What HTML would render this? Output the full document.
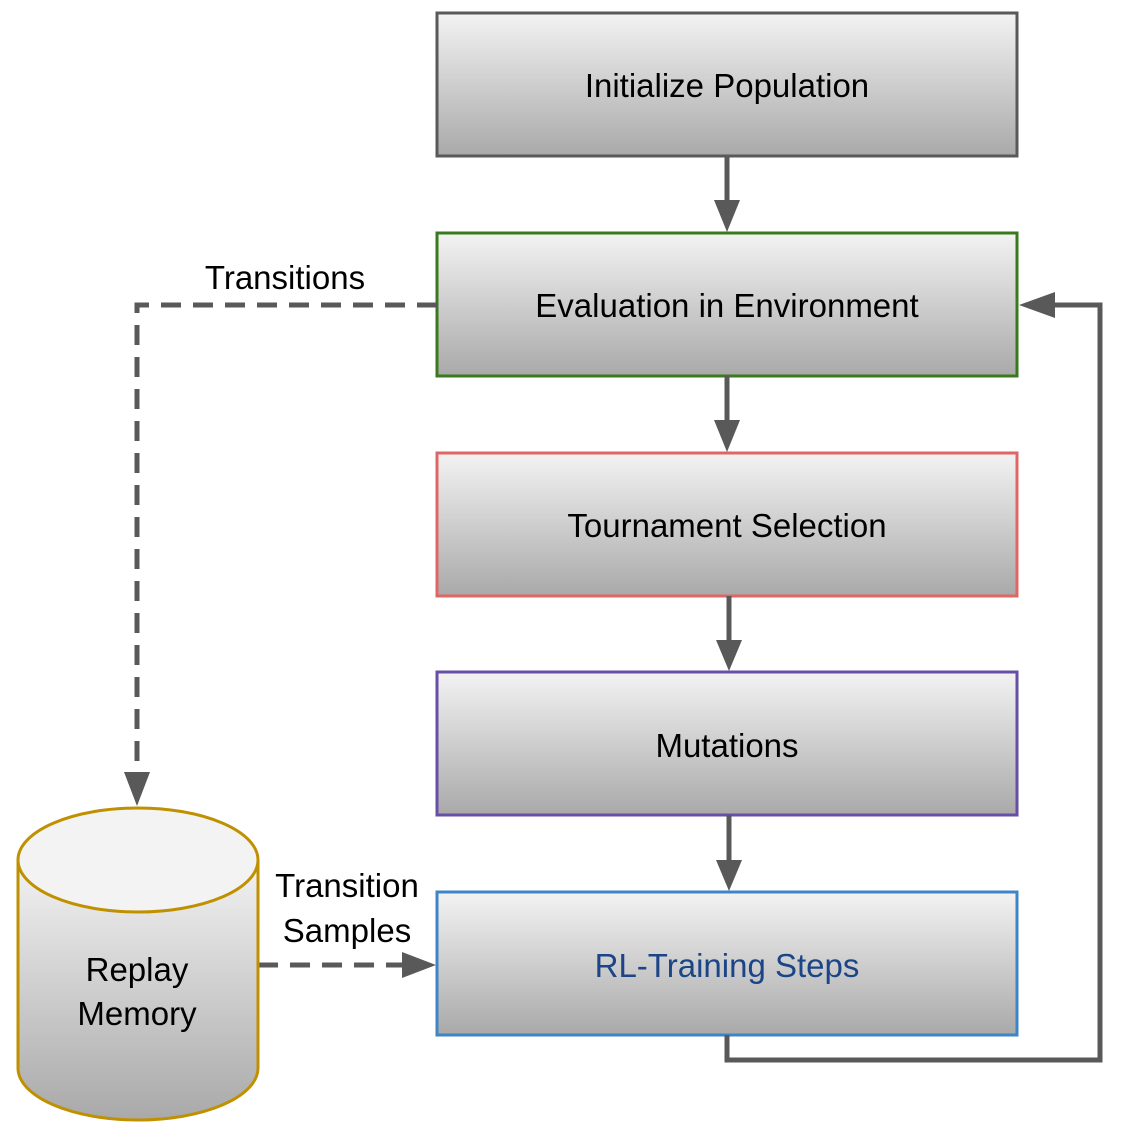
<!DOCTYPE html>
<html><head><meta charset="utf-8"><style>html,body{margin:0;padding:0;background:#fff}</style></head>
<body>
<svg width="1133" height="1133" viewBox="0 0 1133 1133" xmlns="http://www.w3.org/2000/svg" font-family="Liberation Sans, sans-serif">
<defs>
<linearGradient id="g" x1="0" y1="0" x2="0" y2="1"><stop offset="0" stop-color="#f3f3f3"/><stop offset="1" stop-color="#a9a9a9"/></linearGradient>
</defs>
<g stroke-width="3" fill="url(#g)">
<rect x="437" y="13" width="580" height="143" stroke="#595959"/>
<rect x="437" y="233" width="580" height="143" stroke="#3a7a1e"/>
<rect x="437" y="453" width="580" height="143" stroke="#e06666"/>
<rect x="437" y="672" width="580" height="143" stroke="#674ea7"/>
<rect x="437" y="892" width="580" height="143" stroke="#3d85c6"/>
</g>
<g font-size="33" text-anchor="middle" fill="#000">
<text x="727" y="97">Initialize Population</text>
<text x="727" y="317">Evaluation in Environment</text>
<text x="727" y="537">Tournament Selection</text>
<text x="727" y="757">Mutations</text>
<text x="727" y="977" fill="#1c4587">RL-Training Steps</text>
</g>
<g stroke="#595959" stroke-width="5" fill="none">
<line x1="727" y1="156" x2="727" y2="205"/>
<line x1="727" y1="376" x2="727" y2="425"/>
<line x1="729" y1="596" x2="729" y2="645"/>
<line x1="729" y1="815" x2="729" y2="865"/>
<polyline points="727,1035 727,1060 1100,1060 1100,305 1050,305"/>
<polyline points="437,305 137,305 137,775" stroke-dasharray="20,12"/>
<line x1="258" y1="965" x2="405" y2="965" stroke-dasharray="20,12"/>
</g>
<g fill="#595959">
<polygon points="714,200 740,200 727,232"/>
<polygon points="714,420 740,420 727,452"/>
<polygon points="716,640 742,640 729,671"/>
<polygon points="716,860 742,860 729,891"/>
<polygon points="1055,292 1055,318 1019,305"/>
<polygon points="124,772 150,772 137,806"/>
<polygon points="402,952 402,978 436,965"/>
</g>
<path d="M18,860 L18,1068 A120,52 0 0 0 258,1068 L258,860" fill="url(#g)" stroke="#bf9000" stroke-width="3"/>
<ellipse cx="138" cy="860" rx="120" ry="52" fill="#f3f3f3" stroke="#bf9000" stroke-width="3"/>
<g font-size="33" text-anchor="middle" fill="#000">
<text x="137" y="981">Replay</text>
<text x="137" y="1025">Memory</text>
<text x="285" y="289">Transitions</text>
<text x="347" y="897">Transition</text>
<text x="347" y="942">Samples</text>
</g>
</svg>
</body></html>
